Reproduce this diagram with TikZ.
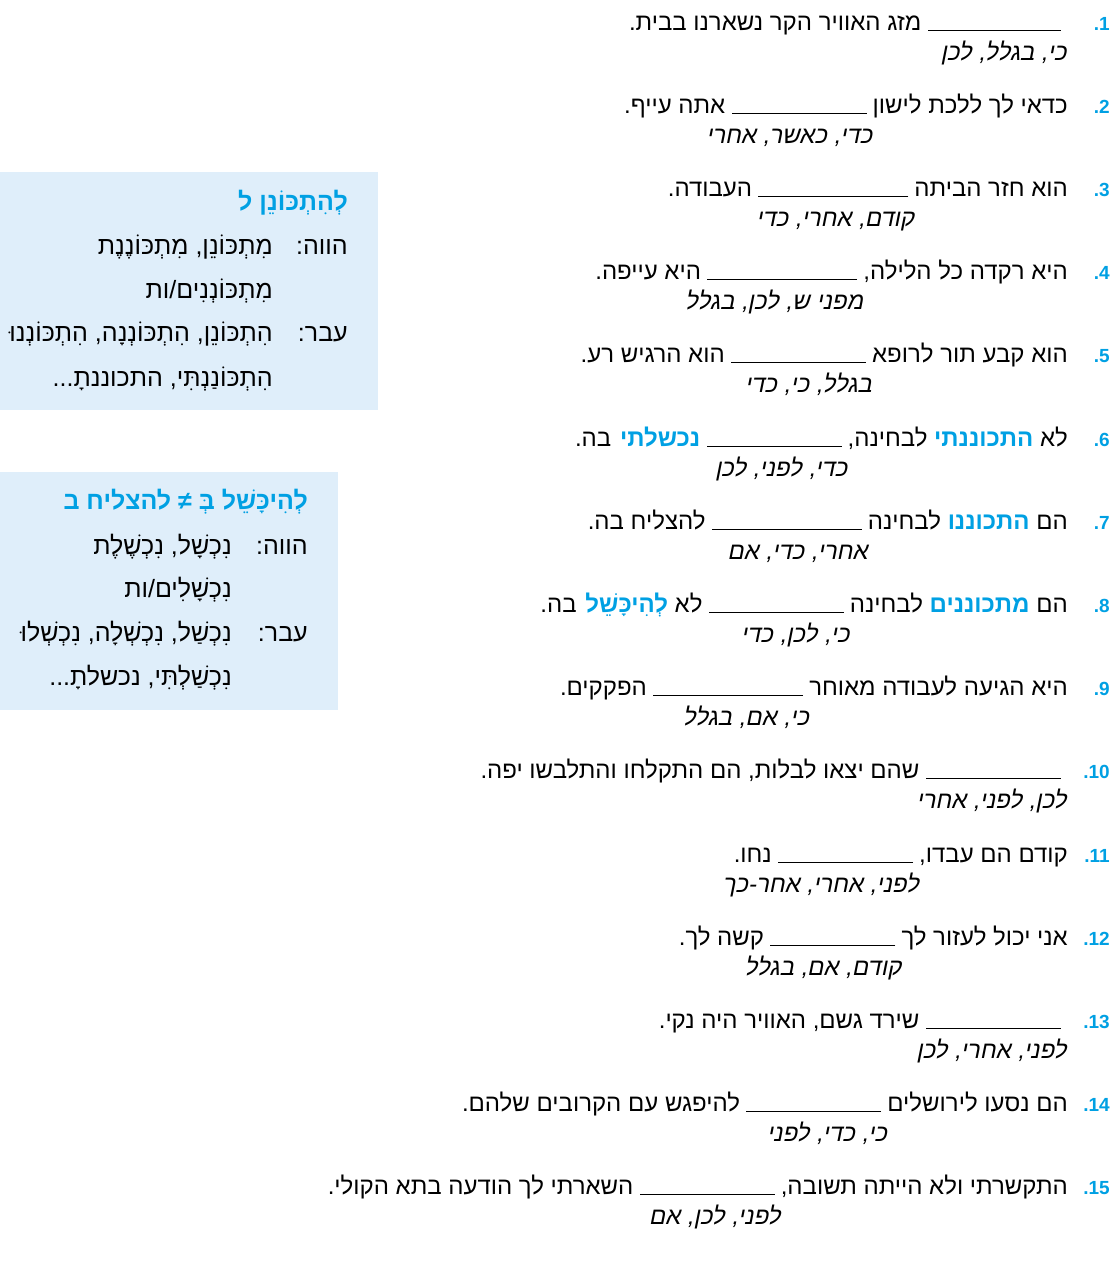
\documentclass[tikz,border=0pt]{standalone}
\usepackage{fontspec}
\setmainfont{Liberation Sans}
\newfontfamily\heb[Script=Hebrew]{Liberation Sans}
\newfontfamily\hebit[Script=Hebrew,FakeSlant=0.2]{Liberation Sans}
\TeXXeTstate=1
\usetikzlibrary{positioning}
\definecolor{cblue}{RGB}{0,160,227}
\definecolor{boxfill}{RGB}{223,238,250}
\newcommand\Rt[1]{\beginR #1\endR}
\newcommand\hl[1]{\textcolor{cblue}{\bfseries\Rt{#1}}}
\tikzset{
  numtext/.style={inner sep=0pt, font=\fontsize{19}{22}\selectfont\bfseries, text=cblue},
  linetext/.style={inner sep=0pt, font=\fontsize{24}{28}\selectfont\heb},
  opttext/.style={inner sep=0pt, font=\fontsize{24}{28}\selectfont\hebit},
  blank/.style={line width=0.8pt},
  boxtext/.style={inner sep=0pt, font=\fontsize{25}{28}\selectfont\heb},
  boxtitle/.style={inner sep=0pt, font=\fontsize{25}{28}\selectfont\heb\bfseries, text=cblue}
}
% #1 number, #2 text right of blank, #3 blank length, #4 text left of blank, #5 choices
\newcommand\exline[5]{%
  \pgfmathsetmacro\yb{30+83.2*(#1-1)}
  \node[numtext, anchor=base east] (n#1) at (1110,\yb) {.#1};
  \node[linetext, anchor=base east] (r#1) at (1068,\yb) {#2};
  \coordinate (b#1) at ([xshift=-6]r#1.base west);
  \draw[blank] (b#1) -- ++(-#3,0) coordinate (e#1);
  \node[linetext, anchor=base east] (l#1) at ([xshift=-6]e#1) {#4};
  \node[opttext, anchor=base east] (o#1) at ([xshift=6,yshift=-30]b#1) {\Rt{#5}};
}
\begin{document}
\begin{tikzpicture}[x=1pt,y=-1pt]
\useasboundingbox (0,0) rectangle (1110,1264);
% verb boxes
\fill[boxfill] (0,172) rectangle (378,410);
\node[boxtitle, anchor=base east] (t1) at (348,210) {\Rt{לְהִתְכּוֹנֵן ל}};
\node[boxtext, anchor=base east] (p1) at (348,254) {\Rt{הווה:}};
\node[boxtext, anchor=base east] (p1a) at (273,254) {\Rt{מִתְכּוֹנֵן, מִתְכּוֹנֶנֶת}};
\node[boxtext, anchor=base east] (p1b) at (273,298) {\Rt{מִתְכּוֹנְנִים/ות}};
\node[boxtext, anchor=base east] (a1) at (348,341) {\Rt{עבר:}};
\node[boxtext, anchor=base east] (a1a) at (273,341) {\Rt{הִתְכּוֹנֵן, הִתְכּוֹנְנָה, הִתְכּוֹנְנוּ}};
\node[boxtext, anchor=base east] (a1b) at (273,386) {\Rt{הִתְכּוֹנַנְתִּי, התכוננתָ...}};

\fill[boxfill] (0,472) rectangle (338,710);
\node[boxtitle, anchor=base east] (t2) at (308,509) {\Rt{לְהִיכָּשֵׁל בְּ ≠ להצליח ב}};
\node[boxtext, anchor=base east] (p2) at (308,554) {\Rt{הווה:}};
\node[boxtext, anchor=base east] (p2a) at (232,554) {\Rt{נִכְשָׁל, נִכְשֶׁלֶת}};
\node[boxtext, anchor=base east] (p2b) at (232,597) {\Rt{נִכְשָׁלִים/ות}};
\node[boxtext, anchor=base east] (a2) at (308,641) {\Rt{עבר:}};
\node[boxtext, anchor=base east] (a2a) at (232,641) {\Rt{נִכְשַׁל, נִכְשְׁלָה, נִכְשְׁלוּ}};
\node[boxtext, anchor=base east] (a2b) at (232,685) {\Rt{נִכְשַׁלְתִּי, נכשלתָ...}};
% exercises
\exline{1}{}{133}{\Rt{מזג האוויר הקר נשארנו בבית.}}{כי, בגלל, לכן}
\exline{2}{\Rt{כדאי לך ללכת לישון}}{135}{\Rt{אתה עייף.}}{כדי, כאשר, אחרי}
\exline{3}{\Rt{הוא חזר הביתה}}{150}{\Rt{העבודה.}}{קודם, אחרי, כדי}
\exline{4}{\Rt{היא רקדה כל הלילה,}}{150}{\Rt{היא עייפה.}}{מפני ש, לכן, בגלל}
\exline{5}{\Rt{הוא קבע תור לרופא}}{135}{\Rt{הוא הרגיש רע.}}{בגלל, כי, כדי}
\exline{6}{\Rt{לבחינה,} \hl{התכוננתי} \Rt{לא}}{135}{\Rt{בה.} \hl{נכשלתי}}{כדי, לפני, לכן}
\exline{7}{\Rt{לבחינה} \hl{התכוננו} \Rt{הם}}{150}{\Rt{להצליח בה.}}{אחרי, כדי, אם}
\exline{8}{\Rt{לבחינה} \hl{מתכוננים} \Rt{הם}}{135}{\Rt{בה.} \hl{לְהִיכָּשֵׁל} \Rt{לא}}{כי, לכן, כדי}
\exline{9}{\Rt{היא הגיעה לעבודה מאוחר}}{150}{\Rt{הפקקים.}}{כי, אם, בגלל}
\exline{10}{}{135}{\Rt{שהם יצאו לבלות, הם התקלחו והתלבשו יפה.}}{לכן, לפני, אחרי}
\exline{11}{\Rt{קודם הם עבדו,}}{135}{\Rt{נחו.}}{לפני, אחרי, אחר-כך}
\exline{12}{\Rt{אני יכול לעזור לך}}{125}{\Rt{קשה לך.}}{קודם, אם, בגלל}
\exline{13}{}{135}{\Rt{שירד גשם, האוויר היה נקי.}}{לפני, אחרי, לכן}
\exline{14}{\Rt{הם נסעו לירושלים}}{135}{\Rt{להיפגש עם הקרובים שלהם.}}{כי, כדי, לפני}
\exline{15}{\Rt{התקשרתי ולא הייתה תשובה,}}{135}{\Rt{השארתי לך הודעה בתא הקולי.}}{לפני, לכן, אם}
\end{tikzpicture}
\end{document}
